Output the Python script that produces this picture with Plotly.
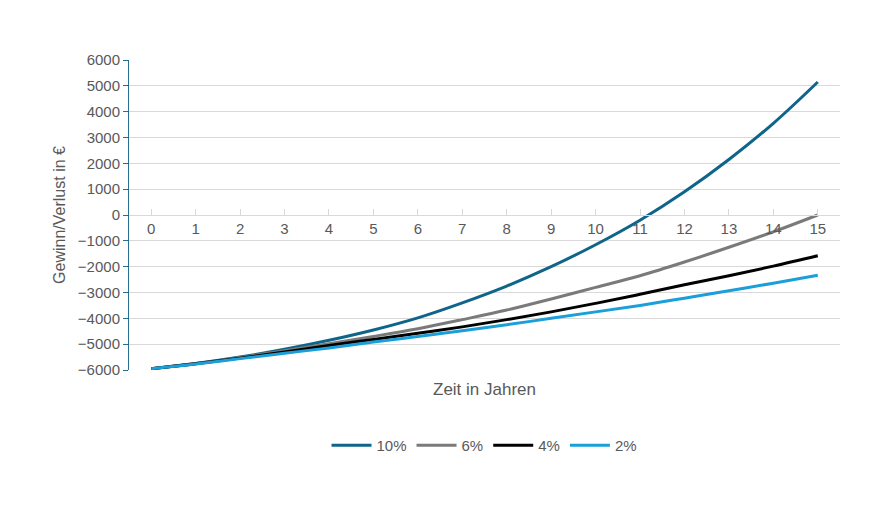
import plotly.graph_objects as go

years = list(range(16))
series_names = ["10%", "6%", "4%", "2%"]
v10 = [-5950, -5750, -5500, -5200, -4850, -4450, -3980, -3400, -2750, -2000, -1150, -200, 900, 2150, 3550, 5150]
v6 = [-5950, -5750, -5520, -5250, -4980, -4700, -4400, -4050, -3680, -3250, -2800, -2350, -1820, -1250, -650, 0]
v4 = [-5950, -5760, -5540, -5300, -5050, -4820, -4580, -4330, -4050, -3750, -3420, -3070, -2700, -2350, -1980, -1580]
v2 = [-5950, -5770, -5560, -5350, -5150, -4920, -4700, -4480, -4250, -4000, -3750, -3500, -3220, -2930, -2640, -2330]
colors = ["#0f6589", "#7a7a7a", "#000000", "#1a9fda"]

fig = go.Figure()
for name, vals, c in zip(series_names, [v10, v6, v4, v2], colors):
    fig.add_trace(go.Scatter(x=years, y=vals, mode="lines", name=name,
                             line=dict(color=c, width=3, shape="spline")))

font = "Liberation Sans"
fig.update_layout(
    width=872, height=505,
    margin=dict(l=121, r=40, t=52, b=143),
    paper_bgcolor="white", plot_bgcolor="white",
    font=dict(family=font, size=15, color="#595959"),
    showlegend=True,
    legend=dict(orientation="h", x=0.5, xanchor="center", y=-0.19, yanchor="top",
                font=dict(size=15, color="#595959"), itemwidth=40),
    xaxis=dict(range=[-0.5, 15.5], tickmode="array", tickvals=years, showgrid=False,
               anchor="free", position=0.5, showline=True, linecolor="#d9d9d9",
               ticks="inside", ticklen=6, tickcolor="#d9d9d9", zeroline=False,
               tickfont=dict(size=15, color="#595959")),
    yaxis=dict(range=[-6000, 6000], dtick=1000, showgrid=True, gridcolor="#d9d9d9",
               showline=True, linecolor="#2a6f8f", ticks="outside", ticklen=5,
               tickcolor="#2a6f8f", zeroline=False, tickfont=dict(size=15),
               title=dict(text="Gewinn/Verlust in €", font=dict(size=16, color="#595959"), standoff=8)),
    annotations=[dict(text="Zeit in Jahren", xref="paper", yref="paper", x=0.5, y=-0.025,
                      yanchor="top", showarrow=False, font=dict(size=17, color="#595959"))],
)

fig.write_html("out.html")
